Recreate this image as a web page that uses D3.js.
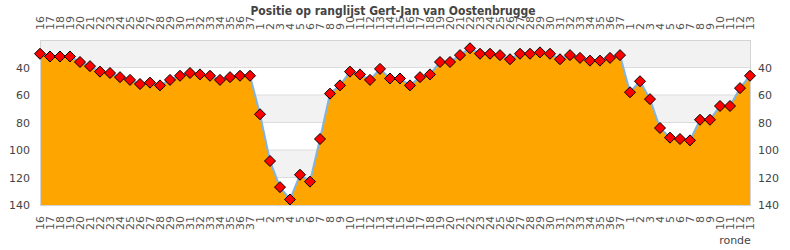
<!DOCTYPE html>
<html>
<head>
<meta charset="utf-8">
<script src="https://cdn.jsdelivr.net/npm/d3@7"></script>
<style>
  body { margin: 0; background: #fff; }
  text { font-family: "DejaVu Sans", sans-serif; }
</style>
</head>
<body>
<div id="chart"></div>
<script>
// rondes (seizoen 1 eind, seizoen 2 heel, seizoen 3 begin)
var rondes = [16,17,18,19,20,21,22,23,24,25,26,27,28,29,30,31,32,33,34,35,36,37,
  1,2,3,4,5,6,7,8,9,10,11,12,13,14,15,16,17,18,19,20,21,22,23,24,25,26,27,28,29,30,31,32,33,34,35,36,37,
  1,2,3,4,5,6,7,8,9,10,11,12,13];
var positie = [30,32,32,32,36,39,43,44,47,49,52,51,53,49,46,44,45,46,49,47,46,46,
  74,108,127,136,118,123,92,59,53,43,45,49,41,48,48,53,47,45,36,36,31,26,30,30,31,34,30,30,29,30,34,31,33,35,35,33,31,
  58,50,63,84,91,92,93,78,78,68,68,55,46];
var yTicks = [40,60,80,100,120,140];
var bands = [[20,40],[60,80],[100,120]];

var W = 790, H = 250;
var margin = {top: 40, right: 40, bottom: 45, left: 40};
var width = W - margin.left - margin.right,
    height = H - margin.top - margin.bottom;

var svg = d3.select("#chart").append("svg")
    .attr("width", W)
    .attr("height", H);

var x = d3.scaleLinear()
    .domain([0, rondes.length - 1])
    .range([margin.left, margin.left + width]);
var y = d3.scaleLinear()
    .domain([20, 140])
    .range([margin.top, margin.top + height]);

// achtergrond banden
svg.append("g").selectAll("rect")
  .data(bands)
  .enter().append("rect")
    .attr("x", x(0))
    .attr("width", width)
    .attr("y", function(d){ return y(d[0]); })
    .attr("height", function(d){ return y(d[1]) - y(d[0]); })
    .style("fill", "#f2f2f2");

// gridlines
svg.append("g").selectAll("line")
  .data(yTicks)
  .enter().append("line")
    .attr("x1", x(0)).attr("x2", x(rondes.length - 1))
    .attr("y1", function(d){ return y(d); })
    .attr("y2", function(d){ return y(d); })
    .style("stroke", "#dcdcdc")
    .style("stroke-width", 1);

// area
var area = d3.area()
    .x(function(d, i){ return x(i); })
    .y0(y(140))
    .y1(function(d){ return y(d); });
svg.append("path")
    .datum(positie)
    .attr("d", area)
    .style("fill", "#ffa500");

// line
var line = d3.line()
    .x(function(d, i){ return x(i); })
    .y(function(d){ return y(d); });
svg.append("path")
    .datum(positie)
    .attr("d", line)
    .style("fill", "none")
    .style("stroke", "#80b4e4")
    .style("stroke-width", 2);

// rand
svg.append("rect")
    .attr("x", x(0) + 0.5)
    .attr("y", y(20) + 0.5)
    .attr("width", width)
    .attr("height", height)
    .style("fill", "none")
    .style("stroke", "#d4d4d4");

// markers
svg.append("g").selectAll("path")
  .data(positie)
  .enter().append("path")
    .attr("transform", function(d, i){ return "translate(" + x(i) + "," + y(d) + ")"; })
    .attr("d", "M0,-5.5L5.5,0L0,5.5L-5.5,0Z")
    .style("fill", "#ff0000")
    .style("stroke", "#000")
    .style("stroke-width", 1);

// y as links en rechts
var yLeft = svg.append("g");
yLeft.selectAll("text")
  .data(yTicks)
  .enter().append("text")
    .attr("x", x(0) - 10)
    .attr("y", function(d){ return y(d) + 4; })
    .attr("text-anchor", "end")
    .style("font-size", "11px")
    .style("fill", "#444")
    .text(function(d){ return d; });
var yRight = svg.append("g");
yRight.selectAll("text")
  .data(yTicks)
  .enter().append("text")
    .attr("x", x(rondes.length - 1) + 8)
    .attr("y", function(d){ return y(d) + 4; })
    .attr("text-anchor", "start")
    .style("font-size", "11px")
    .style("fill", "#444")
    .text(function(d){ return d; });

// x labels boven
svg.append("g").selectAll("text")
  .data(rondes)
  .enter().append("text")
    .attr("transform", function(d, i){ return "translate(" + (x(i) + 4) + ",30) rotate(-90)"; })
    .attr("text-anchor", "start")
    .style("font-size", "11px")
    .style("fill", "#555")
    .text(function(d){ return d; });

// x labels onder
svg.append("g").selectAll("text")
  .data(rondes)
  .enter().append("text")
    .attr("transform", function(d, i){ return "translate(" + (x(i) + 4) + ",216) rotate(-90)"; })
    .attr("text-anchor", "end")
    .style("font-size", "11px")
    .style("fill", "#555")
    .text(function(d){ return d; });

svg.append("text")
    .attr("x", 735)
    .attr("y", 244)
    .attr("text-anchor", "middle")
    .style("font-size", "11px")
    .style("fill", "#444")
    .text("ronde");

// titel
svg.append("text")
    .attr("x", 393)
    .attr("y", 15)
    .attr("text-anchor", "middle")
    .style("font-family", "'DejaVu Sans Condensed', 'DejaVu Sans', sans-serif")
    .style("font-stretch", "condensed")
    .style("font-weight", "bold")
    .style("font-size", "12px")
    .style("fill", "#444")
    .text("Positie op ranglijst Gert-Jan van Oostenbrugge");
</script>
</body>
</html>
